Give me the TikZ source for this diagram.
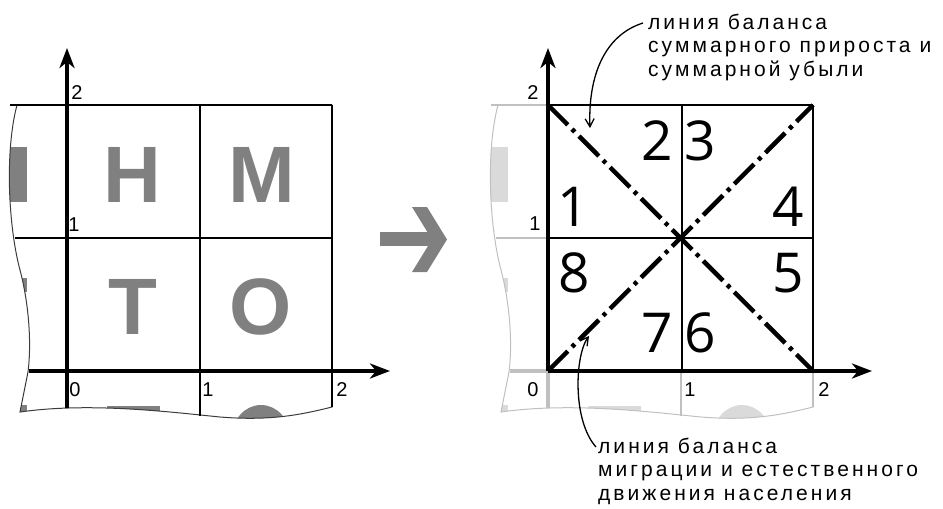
\documentclass[tikz,border=0pt]{standalone}
\usepackage{fontspec}
\setmainfont{Liberation Sans}
\newfontfamily\digitfont{Open Sans}
\newfontfamily\notefont[LetterSpace=14.5]{Liberation Sans}
\usetikzlibrary{arrows.meta}

\definecolor{lettergray}{RGB}{127,128,127}
\definecolor{fadeline}{RGB}{192,192,192}
\definecolor{fadefill}{RGB}{218,218,218}
\definecolor{edgegray}{RGB}{60,60,60}

\newcommand\waveedge{(17,105) -- (332,105) -- (332,407)
  .. controls (300,415) and (270,421) .. (220,417)
  .. controls (170,412) and (90,402) .. (20,412)
  -- (28,372) .. controls (32,340) and (28,300) .. (20,270)
  .. controls (8,225) and (5,150) .. (17,105) -- cycle}
\newcommand\wavefragments[1]{%
  \begin{scope}
    \clip \waveedge;
    \fill[#1] (0,147) rectangle (27,202);
    \fill[#1] (0,278) rectangle (27,292);
    \fill[#1] (0,405) rectangle (27,425);
    \fill[#1] (107,406) rectangle (160,425);
    \fill[#1] (261,437) ellipse [x radius=29, y radius=32];
  \end{scope}}

\tikzset{
  axisline/.style={line width=3.5pt, -{Stealth[length=20pt,width=15pt,inset=6pt]}},
  gridline/.style={line width=1.5pt},
  bigletter/.style={font=\fontsize{80}{80}\selectfont\bfseries, text=lettergray, inner sep=0pt},
  ticklab/.style={font=\fontsize{20}{20}\selectfont, inner sep=0pt},
  region/.style={font=\digitfont\fontsize{55}{55}\selectfont, inner sep=0pt},
  balance/.style={line width=4.5pt, dash pattern=on 28pt off 6pt on 4pt off 6pt},
  note/.style={font=\notefont\fontsize{21}{23.5}\selectfont, align=left, inner sep=0pt},
  pointer/.style={line width=1.3pt, -{Straight Barb[length=8pt,width=9pt]}},
}

\begin{document}
\begin{tikzpicture}[x=1pt,y=-1pt]
\useasboundingbox (0,0) rectangle (943,509);

% ---------- left panel ----------
\wavefragments{lettergray}
\draw[edgegray, line width=1pt] \waveedge;
\draw[gridline] (10,105) -- (332,105);
\draw[gridline] (15,238) -- (332,238);
\draw[gridline] (200,105) -- (200,416);
\draw[gridline] (332,105) -- (332,407);
\node[bigletter] (lH) at (132,175) {Н};
\node[bigletter] (lM) at (262,175) {М};
\node[bigletter] (lT) at (133,307) {Т};
\node[bigletter] (lO) at (261,307) {О};
\coordinate (ly0) at (67,408);
\coordinate (ly1) at (67,48);
\coordinate (lx0) at (29,371);
\coordinate (lx1) at (390,371);
\draw[axisline] (ly0) -- (ly1);
\draw[axisline] (lx0) -- (lx1);
\node[ticklab] (lt2y) at (77,93) {2};
\node[ticklab] (lt1y) at (74,225) {1};
\node[ticklab] (lt0) at (75,390) {0};
\node[ticklab] (lt1x) at (208,390) {1};
\node[ticklab] (lt2x) at (342,390) {2};

% ---------- big arrow ----------
\fill[lettergray] (380,232) rectangle (436,246);
\fill[lettergray] (412,207) -- (427,207) -- (447,239.5) -- (427,272) -- (412,272) -- (432,239.5) -- cycle;

% ---------- right panel: faded background ----------
\begin{scope}[xshift=481pt]
  \wavefragments{fadefill}
  \draw[fadeline, line width=1pt] \waveedge;
  \draw[fadeline, gridline] (10,105) -- (67,105);
  \draw[fadeline, gridline] (15,238) -- (67,238);
  \draw[fadeline, gridline] (200,371) -- (200,416);
  \draw[fadeline, gridline] (332,371) -- (332,407);
  \draw[fadeline, line width=3.5pt] (29,371) -- (67,371);
  \draw[fadeline, line width=3.5pt] (67,371) -- (67,408);
\end{scope}

% ---------- right panel: grid ----------
\draw[gridline] (548,105) -- (813,105);
\draw[gridline] (548,238) -- (813,238);
\draw[gridline] (682,105) -- (682,371);
\draw[gridline] (813,105) -- (813,371);
\coordinate (rtl) at (548,105);
\coordinate (rtr) at (813,105);
\coordinate (rbl) at (548,371);
\coordinate (rbr) at (813,371);
\draw[balance] (rtl) -- (rbr);
\draw[balance] (rbl) -- (rtr);
\coordinate (ry1) at (548,48);
\coordinate (rx1) at (872,371);
\draw[axisline] (rbl) -- (ry1);
\draw[axisline] (rbl) -- (rx1);
\node[ticklab] (rt2y) at (533,93) {2};
\node[ticklab] (rt1y) at (535,224) {1};
\node[ticklab] (rt0) at (533,390) {0};
\node[ticklab] (rt1x) at (690,390) {1};
\node[ticklab] (rt2x) at (824,390) {2};

\node[region] (n1) at (573,207) {1};
\node[region] (n2) at (657,141) {2};
\node[region] (n3) at (700,141) {3};
\node[region] (n4) at (788,207) {4};
\node[region] (n5) at (788,273) {5};
\node[region] (n6) at (700,333) {6};
\node[region] (n7) at (657,333) {7};
\node[region] (n8) at (574,273) {8};

% ---------- notes ----------
\node[note, anchor=base west] (topnote) at (648,76) {линия баланса\\суммарного прироста и\\суммарной убыли};
\node[note, anchor=base west] (botnote) at (598,500) {линия баланса\\миграции и естественного\\движения населения};
\coordinate (tpa) at (643,23);
\coordinate (tpb) at (590,128);
\draw[pointer] (tpa) .. controls (605,35) and (588,75) .. (tpb);
\coordinate (bpa) at (596,447);
\coordinate (bpb) at (589,336);
\draw[pointer] (bpa) .. controls (572,420) and (575,355) .. (bpb);
\end{tikzpicture}
\end{document}
